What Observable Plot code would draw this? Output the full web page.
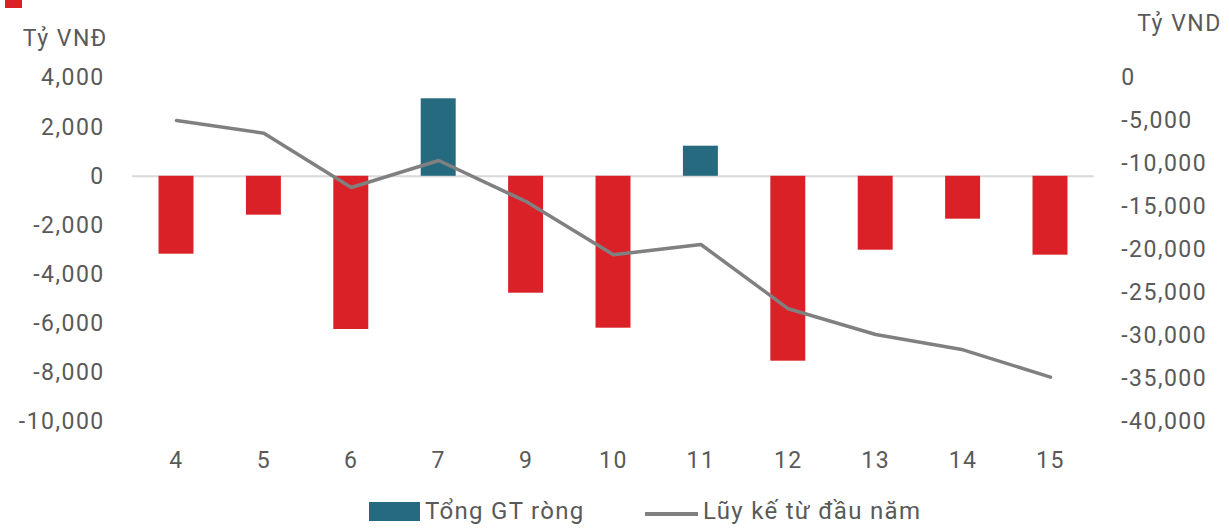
<!DOCTYPE html>
<html><head><meta charset="utf-8">
<script src="https://cdn.jsdelivr.net/npm/d3@7"></script>
<script src="https://cdn.jsdelivr.net/npm/@observablehq/plot@0.6"></script>
<style>
body{margin:0;background:#fff;width:1229px;height:528px;overflow:hidden;position:relative;font-family:Roboto,sans-serif}
#chart{position:absolute;left:0;top:0}
#chart svg text{letter-spacing:1.5px}
.sq{position:absolute;left:5px;top:0;width:17px;height:8px;background:#DA2128}
#legend{position:absolute;top:0;left:0;width:1229px;height:528px;font-size:24px;color:#595959;letter-spacing:1.3px;white-space:nowrap;font-weight:400}
#legend span{position:absolute}
#legend .box{left:369px;top:502px;width:51px;height:19px;background:#266A7F}
#legend .ln{left:645px;top:512px;width:53px;height:3.5px;background:#808080}
#legend .t1{left:425px;top:497px}
#legend .t2{left:703px;top:497px}
</style></head><body>
<div class="sq"></div>
<div id="chart"></div>
<div id="legend"><span class="box"></span><span class="t1">Tổng GT ròng</span><span class="ln"></span><span class="t2">Lũy kế từ đầu năm</span></div>
<script>
const sessions = ["4","5","6","7","9","10","11","12","13","14","15"];
const netValue = [-3170,-1583,-6235,3154,-4758,-6182,1225,-7525,-3008,-1746,-3211];
const cumulative = [-4942,-6419,-12733,-9593,-14360,-20558,-19360,-26837,-29826,-31605,-34791];
const leftTicks = [4000,2000,0,-2000,-4000,-6000,-8000,-10000];
const rightTicks = [0,-5000,-10000,-15000,-20000,-25000,-30000,-35000,-40000];
const leftUnit = "Tỷ VNĐ";
const rightUnit = "Tỷ VND";

const toLeft = v => v * 0.35 + 4000;
const fromLeft = v => Math.round((v - 4000) / 0.35);
const fmt = d3.formatLocale({decimal: ".", thousands: ",", grouping: [3], currency: ["", ""], minus: "-"}).format(",");
const data = sessions.map((s, i) => ({s, v: netValue[i], c: cumulative[i]}));

const chart = Plot.plot({
  width: 1229, height: 490,
  marginTop: 77.5, marginBottom: 68.5, marginLeft: 132.3, marginRight: 135.3,
  style: {fontFamily: "Roboto, sans-serif", fontSize: "23px", color: "#595959", background: "transparent", fontWeight: 400},
  x: {domain: sessions, paddingInner: 0.6, paddingOuter: 0.3, round: false},
  y: {domain: [-10000, 4000]},
  marks: [
    Plot.ruleY([0], {stroke: "#d9d9d9", strokeWidth: 2}),
    Plot.barY(data.filter(d => d.v < 0), {x: "s", y: "v", fill: "#DA2128"}),
    Plot.barY(data.filter(d => d.v >= 0), {x: "s", y: "v", fill: "#266A7F"}),
    Plot.line(data, {x: "s", y: d => toLeft(d.c), stroke: "#808080", strokeWidth: 3.5}),
    Plot.axisX({tickSize: 0, tickPadding: 30, label: null}),
    Plot.axisY(leftTicks, {anchor: "left", tickSize: 0, tickPadding: 28, tickFormat: fmt, label: null}),
    Plot.axisY(rightTicks.map(toLeft), {anchor: "right", tickSize: 0, tickPadding: 27, tickFormat: d => fmt(fromLeft(d)), label: null}),
    Plot.text([leftUnit], {frameAnchor: "top-left", dx: -110, dy: -48, textAnchor: "start", fill: "#595959"}),
    Plot.text([rightUnit], {frameAnchor: "top-right", dx: 43, dy: -63, textAnchor: "start", fill: "#595959"})
  ]
});
document.getElementById("chart").appendChild(chart);
</script>
</body></html>
